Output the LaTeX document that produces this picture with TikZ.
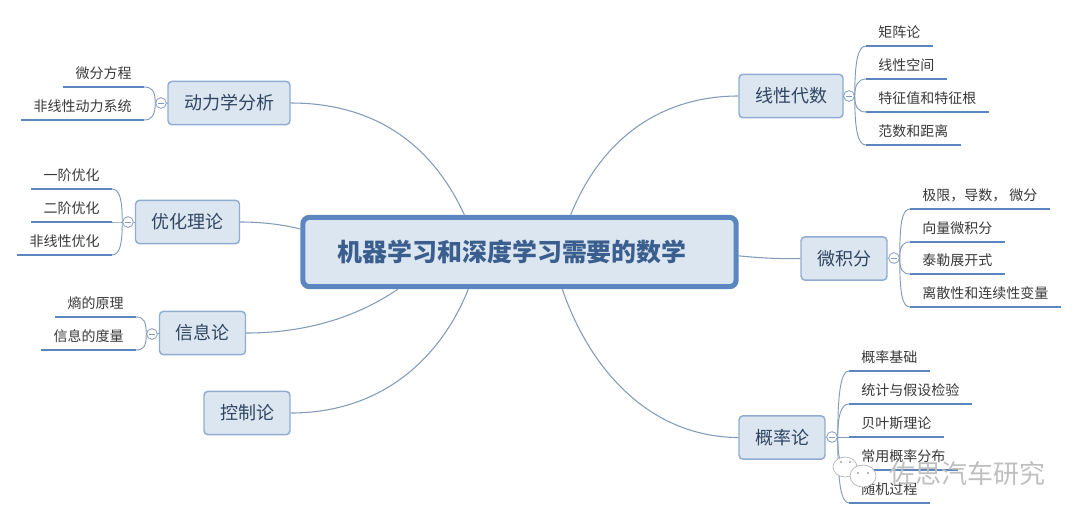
\documentclass[tikz,border=0pt]{standalone}
\usepackage{fontspec}
\setmainfont{Noto Sans CJK SC}
\usepackage{xcolor}
\definecolor{mmblue}{RGB}{91,134,191}
\definecolor{mmpale}{RGB}{220,230,241}
\definecolor{mmedge}{RGB}{143,173,208}
\definecolor{mmline}{RGB}{130,155,185}
\definecolor{mmink}{RGB}{47,69,96}
\definecolor{mmtitle}{RGB}{58,95,143}
\usetikzlibrary{arrows.meta,positioning,calc}

\begin{document}
\begin{tikzpicture}[
  x=0.75pt, y=-0.75pt,
  rootbox/.style={rectangle, rounded corners=5pt, draw=mmblue, line width=3.8pt,
               fill=mmpale, minimum width=325pt, minimum height=52pt,
               font=\fontsize{18.7}{22}\selectfont\bfseries, align=center, text=mmtitle},
  topicbox/.style={rectangle, rounded corners=3pt, draw=mmedge, line width=1.1pt,
               fill=mmpale, minimum height=32.5pt, inner xsep=12pt,
               font=\fontsize{13.5}{16}\selectfont, align=center, text=mmink},
  leafbox/.style={rectangle, inner xsep=9pt, inner ysep=0pt, text height=10pt, text depth=6pt,
               font=\fontsize{10.5}{12}\selectfont, text=black!78},
  toggle/.style={circle, draw=mmline, line width=0.6pt, fill=white, minimum size=8pt, inner sep=0pt,
               path picture={\draw[mmline, line width=0.5pt]
                 ([xshift=2pt]path picture bounding box.west) -- ([xshift=-2pt]path picture bounding box.east);}},
  bar/.style={draw=mmblue, line width=2.2pt},
  link/.style={draw=mmline, line width=0.8pt},
  twig/.style={draw=mmline, line width=0.7pt}
]
\useasboundingbox (0,0) rectangle (1080,522);

% Central box
\node[rootbox] (maths) at (519.5,252) {\raisebox{-1pt}{机器学习和深度学习需要的数学}\hspace*{11pt}};

% Topics
\node[topicbox] (dyn) at (229,103) {动力学分析};
\node[topicbox] (opt) at (187.5,222) {优化理论};
\node[topicbox] (inf) at (202.5,333) {信息论};
\node[topicbox] (ctl) at (247,413) {控制论};
\node[topicbox] (lin) at (791,96) {线性代数};
\node[topicbox] (cal) at (844,258.5) {微积分};
\node[topicbox] (pro) at (782,437.5) {概率论};

% Toggles
\node[toggle] (tdyn) at (161,103) {};
\node[toggle] (topt) at (128,222) {};
\node[toggle] (tinf) at (152,334) {};
\node[toggle] (tlin) at (849,96) {};
\node[toggle] (tcal) at (894,258) {};
\node[toggle] (tpro) at (832,437) {};

% Left leaves
\node[leafbox, anchor=south east] (d1) at (144,87) {微分方程};
\node[leafbox, anchor=south east] (d2) at (144,120) {非线性动力系统};
\node[leafbox, anchor=south east] (o1) at (112,189) {一阶优化};
\node[leafbox, anchor=south east] (o2) at (112,222) {二阶优化};
\node[leafbox, anchor=south east] (o3) at (112,255) {非线性优化};
\node[leafbox, anchor=south east] (i1) at (136,317) {熵的原理};
\node[leafbox, anchor=south east] (i2) at (136,350) {信息的度量};

% Right leaves
\node[leafbox, anchor=south west] (l1) at (866,46) {矩阵论};
\node[leafbox, anchor=south west] (l2) at (866,79) {线性空间};
\node[leafbox, anchor=south west] (l3) at (866,112) {特征值和特征根};
\node[leafbox, anchor=south west] (l4) at (866,145) {范数和距离};
\node[leafbox, anchor=south west] (c1) at (910,209) {极限，导数， 微分};
\node[leafbox, anchor=south west] (c2) at (910,242) {向量微积分};
\node[leafbox, anchor=south west] (c3) at (910,274) {泰勒展开式};
\node[leafbox, anchor=south west] (c4) at (910,307) {离散性和连续性变量};
\node[leafbox, anchor=south west] (p1) at (849,371) {概率基础};
\node[leafbox, anchor=south west] (p2) at (849,404) {统计与假设检验};
\node[leafbox, anchor=south west] (p3) at (849,437) {贝叶斯理论};
\node[leafbox, anchor=south west] (p4) at (849,470) {常用概率分布};
\node[leafbox, anchor=south west] (p5) at (849,503) {随机过程};

% Underlines
\foreach \lf in {d1,d2,o1,o2,o3,i1,i2,l1,l2,l3,l4,c1,c2,c3,c4,p1,p2,p3,p4,p5}
  \draw[bar] (\lf.south west) -- (\lf.south east);

% Links to the central box
\draw[link] (dyn.east) .. controls (370,103) and (430,140) .. (maths.146);
\draw[link] (opt.east) .. controls (260,222) and (280,224) .. (maths.174);
\draw[link] (inf.east) .. controls (310,333) and (360,315) .. (maths.197);
\draw[link] (ctl.east) .. controls (380,413) and (440,360) .. (maths.-144);
\draw[link] (lin.west) .. controls (670,96) and (605,130) .. (maths.36);
\draw[link] (cal.west) .. controls (780,259) and (760,258) .. (maths.-1.6);
\draw[link] (pro.west) .. controls (650,437) and (590,370) .. (maths.-41);

% Topic to toggle
\foreach \tp/\tg in {dyn/tdyn,opt/topt,inf/tinf}
  \draw[twig] (\tp.west) -- (\tg.east);
\foreach \tp/\tg in {lin/tlin,cal/tcal,pro/tpro}
  \draw[twig] (\tp.east) -- (\tg.west);

% Toggle to leaves
\foreach \tg/\lf/\ang/\dist in {tdyn/d1/90/9,tdyn/d2/-90/9,topt/o1/90/16,topt/o2/180/4,topt/o3/-90/16,
                                tinf/i1/90/9,tinf/i2/-90/9}
  \draw[twig] (\tg.west) to[out=\ang, in=0, out distance=\dist pt, in distance=6pt] (\lf.south east);
\foreach \tg/\lf/\ang/\dist in {tlin/l1/90/26,tlin/l2/90/8,tlin/l3/-90/8,tlin/l4/-90/26,
                                tcal/c1/90/26,tcal/c2/90/8,tcal/c3/-90/8,tcal/c4/-90/26,
                                tpro/p1/90/34,tpro/p2/90/16,tpro/p3/0/4,tpro/p4/-90/16,tpro/p5/-90/34}
  \draw[twig] (\tg.east) to[out=\ang, in=180, out distance=\dist pt, in distance=6pt] (\lf.south west);

% Watermark
\draw[gray!60, fill=white, line width=0.5pt] (845,467) ellipse (12 and 10);
\draw[gray!60, fill=white, line width=0.5pt] (863,476) ellipse (13 and 11);
\foreach \ex/\ey in {841/462,850/462,858/473,868/473}
  \fill[gray!70] (\ex,\ey) circle (1.2);
\node[font=\fontsize{19.5}{22}\selectfont, text=gray!50] (mark) at (967,474) {佐思汽车研究};
\end{tikzpicture}
\end{document}
